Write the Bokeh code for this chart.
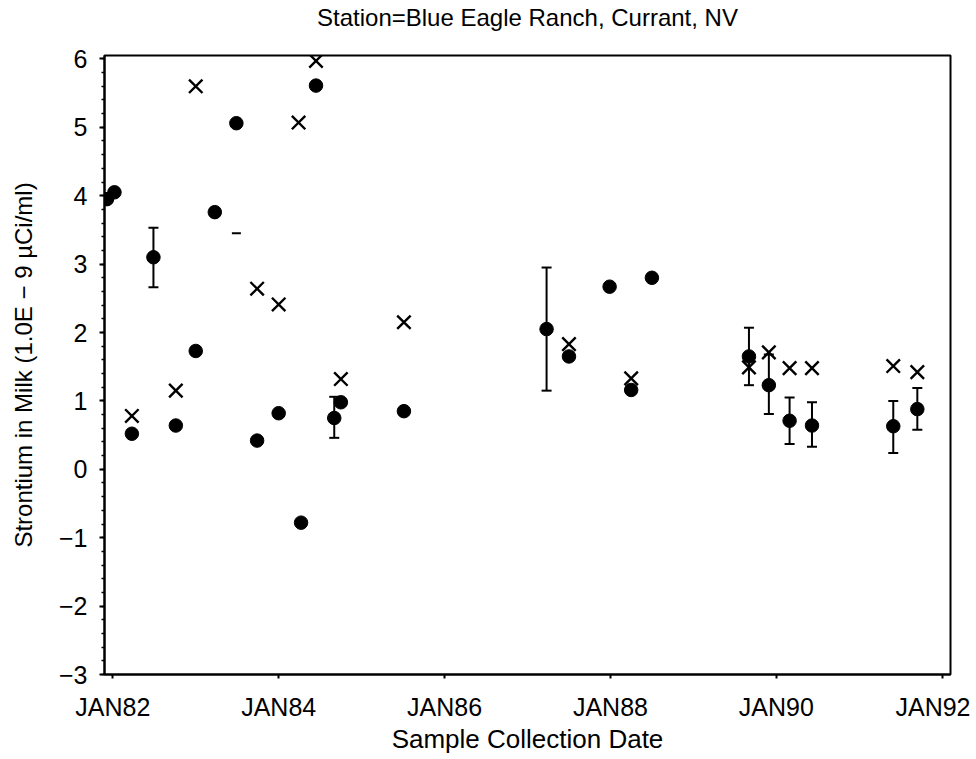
from bokeh.plotting import figure
from bokeh.models import (ColumnDataSource, Range1d, FixedTicker, SingleIntervalTicker,
                          Whisker, TeeHead, Title)
from bokeh.embed import file_html
from bokeh.resources import INLINE

# ---- data (decimal year of sample collection, strontium in milk) ----
circle_x = [1981.93, 1982.02, 1982.23, 1982.49, 1982.76, 1983.00, 1983.23, 1983.49,
            1983.74, 1984.00, 1984.27, 1984.45, 1984.67, 1984.75, 1985.51, 1987.23,
            1987.50, 1987.99, 1988.25, 1988.50, 1989.67, 1989.91, 1990.16, 1990.43,
            1991.41, 1991.70]
circle_y = [3.95, 4.05, 0.52, 3.10, 0.64, 1.73, 3.76, 5.06,
            0.42, 0.82, -0.78, 5.61, 0.75, 0.98, 0.85, 2.05,
            1.65, 2.67, 1.16, 2.80, 1.65, 1.23, 0.71, 0.64,
            0.63, 0.88]

cross_x = [1982.23, 1982.76, 1983.00, 1983.74, 1984.00, 1984.24, 1984.45, 1984.75,
           1985.51, 1987.50, 1988.25, 1989.67, 1989.91, 1990.16, 1990.43, 1991.41,
           1991.70]
cross_y = [0.78, 1.15, 5.60, 2.64, 2.41, 5.07, 5.97, 1.32,
           2.15, 1.83, 1.33, 1.49, 1.71, 1.48, 1.48, 1.51,
           1.42]

err_x = [1982.49, 1984.67, 1987.23, 1989.67, 1989.91, 1990.16, 1990.43, 1991.41, 1991.70]
err_lower = [2.66, 0.46, 1.15, 1.23, 0.81, 0.37, 0.33, 0.24, 0.58]
err_upper = [3.53, 1.06, 2.95, 2.07, 1.68, 1.05, 0.98, 1.00, 1.19]

dash_x = [1983.49]
dash_y = [3.45]

x_tick_values = [1982, 1984, 1986, 1988, 1990, 1992]
x_tick_labels = ["JAN82", "JAN84", "JAN86", "JAN88", "JAN90", "JAN92"]
y_tick_values = [-3, -2, -1, 0, 1, 2, 3, 4, 5, 6]
y_tick_labels = ["\u22123", "\u22122", "\u22121", "0", "1", "2", "3", "4", "5", "6"]

title_text = "Station=Blue Eagle Ranch, Currant, NV"
x_title = "Sample Collection Date"
y_title = "Strontium in Milk (1.0E \u2212 9 \u00b5Ci/ml)"

FONT = "Liberation Sans"

p = figure(width=970, height=756, output_backend="svg", toolbar_location=None,
           x_range=Range1d(1981.9, 1992.1), y_range=Range1d(-3, 6.05),
           min_border_left=104, min_border_right=20, min_border_top=55, min_border_bottom=79,
           title=title_text)

p.background_fill_color = "white"
p.border_fill_color = "white"
p.outline_line_color = "black"
p.outline_line_width = 2
p.grid.visible = False

p.title.align = "center"
p.title.text_font = FONT
p.title.text_font_size = "24px"
p.title.text_font_style = "normal"
p.title.text_color = "black"
p.title.standoff = 2

# blank spacer between the frame and the title
p.add_layout(Title(text=" ", text_font_size="16px", standoff=5), "above")

# x axis
xa = p.xaxis[0]
xa.ticker = FixedTicker(ticks=x_tick_values, minor_ticks=[])
xa.major_label_overrides = {v: l for v, l in zip(x_tick_values, x_tick_labels)}
xa.axis_label = x_title
xa.axis_line_width = 2
xa.major_tick_in = 0
xa.major_tick_out = 4
xa.major_tick_line_width = 2
xa.major_label_standoff = 14
xa.axis_label_standoff = 0

# y axis
ya = p.yaxis[0]
ya.ticker = SingleIntervalTicker(interval=1, num_minor_ticks=5)
ya.major_label_overrides = {v: l for v, l in zip(y_tick_values, y_tick_labels)}
ya.axis_label = y_title
ya.axis_line_width = 2
ya.major_tick_in = 0
ya.major_tick_out = 5
ya.major_tick_line_width = 2
ya.minor_tick_in = 0
ya.minor_tick_out = 3
ya.minor_tick_line_width = 1.5
ya.major_label_standoff = 12
ya.axis_label_standoff = 19

for ax in (xa, ya):
    ax.major_label_text_font = FONT
    ax.major_label_text_font_size = "25px"
    ax.major_label_text_color = "black"
    ax.axis_label_text_font = FONT
    ax.axis_label_text_font_style = "normal"
    ax.axis_label_text_color = "black"
    ax.axis_line_color = "black"
    ax.major_tick_line_color = "black"
    ax.minor_tick_line_color = "black"
xa.axis_label_text_font_size = "26px"
ya.axis_label_text_font_size = "24px"

# error bars
err_src = ColumnDataSource(dict(x=err_x, lower=err_lower, upper=err_upper))
p.add_layout(Whisker(source=err_src, base="x", lower="lower", upper="upper",
                     line_color="black", line_width=2,
                     upper_head=TeeHead(size=10, line_color="black", line_width=2),
                     lower_head=TeeHead(size=10, line_color="black", line_width=2)))

p.scatter(circle_x, circle_y, marker="circle", size=13.5, fill_color="black", line_color="black")
p.scatter(cross_x, cross_y, marker="x", size=19, line_color="black", line_width=2.4)
p.scatter(dash_x, dash_y, marker="dash", size=9, line_color="black", line_width=2)

open("out.html", "w").write(file_html(p, INLINE))
